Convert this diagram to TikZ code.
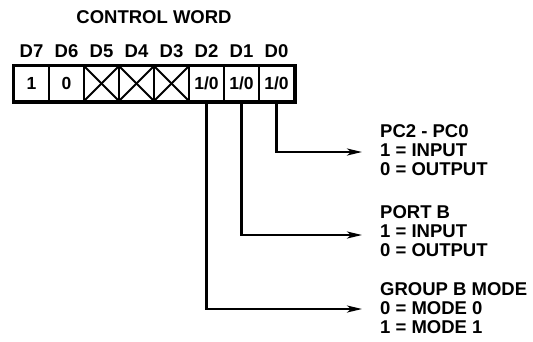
\documentclass[tikz,border=0pt]{standalone}
\usepackage{fontspec}
\setmainfont{Liberation Sans}
\usetikzlibrary{arrows.meta}
\begin{document}
\begin{tikzpicture}[x=1bp,y=-1bp,
  lbl/.style={font=\fontsize{18.5bp}{19bp}\selectfont\bfseries, inner sep=0pt},
  cell/.style={draw, line width=2.2bp, minimum width=35bp, minimum height=35bp, inner sep=0pt, font=\fontsize{17.5bp}{19bp}\selectfont\bfseries},
  conn/.style={line width=2.2bp, -{Stealth[length=15bp,width=7bp,inset=4bp]}},
  desc/.style={font=\fontsize{18.5bp}{18.8bp}\selectfont\bfseries, align=left, anchor=west, inner sep=0pt}]
\useasboundingbox (0,0) rectangle (533,341);
% cells
\node[cell] (c7) at (31.5,83.5) {1};
\node[cell] (c6) at (66.5,83.5) {0};
\node[cell] (c5) at (101.5,83.5) {};
\node[cell] (c4) at (136.5,83.5) {};
\node[cell] (c3) at (171.5,83.5) {};
\node[cell] (c2) at (206.5,83.5) {1/0};
\node[cell] (c1) at (241.5,83.5) {1/0};
\node[cell] (c0) at (276.5,83.5) {1/0};
\draw[line width=2.8bp] (c7.north west) rectangle (c0.south east);
\foreach \c in {c5,c4,c3}{
  \draw[line width=2bp] (\c.north west) -- (\c.south east);
  \draw[line width=2bp] (\c.south west) -- (\c.north east);
}
% labels
\node[lbl] (title) at (154,17) {CONTROL WORD};
\node[lbl] (d7) at (31.5,51) {D7};
\node[lbl] (d6) at (66.5,51) {D6};
\node[lbl] (d5) at (101.5,51) {D5};
\node[lbl] (d4) at (136.5,51) {D4};
\node[lbl] (d3) at (171.5,51) {D3};
\node[lbl] (d2) at (206.5,51) {D2};
\node[lbl] (d1) at (241.5,51) {D1};
\node[lbl] (d0) at (276.5,51) {D0};
% descriptions
\node[desc] (t0) at (380,150) {PC2 - PC0\\1 = INPUT\\0 = OUTPUT};
\node[desc] (t1) at (380,231) {PORT B\\1 = INPUT\\0 = OUTPUT};
\node[desc] (t2) at (380,308) {GROUP B MODE\\0 = MODE 0\\1 = MODE 1};
\coordinate (a0) at (362,152);
\coordinate (a1) at (362,235);
\coordinate (a2) at (362,309);
\draw[conn] (c0.south) |- (a0);
\draw[conn] (c1.south) |- (a1);
\draw[conn] (c2.south) |- (a2);
\end{tikzpicture}
\end{document}
